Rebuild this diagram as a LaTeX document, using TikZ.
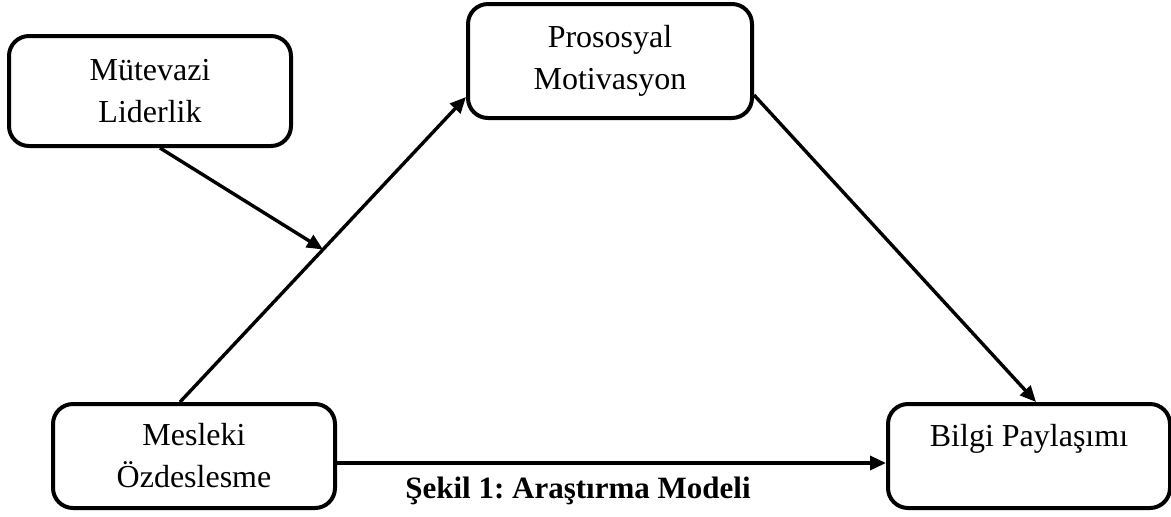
\documentclass[tikz,border=0pt]{standalone}
\usepackage{fontspec}
\setmainfont{Liberation Serif}
\usepackage{tikz}
\usetikzlibrary{arrows.meta}
\frenchspacing

\tikzset{
    modelbox/.style={draw, line width=2pt, rounded corners=10pt, align=center,
        minimum width=141pt, minimum height=54pt, inner sep=0pt,
        font=\fontsize{16}{21}\selectfont},
    arr/.style={line width=1.7pt, -{Triangle[length=8pt,width=7pt]}}
}

\begin{document}
\begin{tikzpicture}[x=0.5pt,y=-0.5pt]
    \useasboundingbox (0,0) rectangle (1171,516);

    % Boxes
    \node[modelbox, minimum height=55pt] (mut) at (150,91) {M\"utevazi\\Liderlik};
    \node[modelbox, minimum width=142pt, minimum height=57pt] (pro) at (610,61) {Prososyal\\Motivasyon};
    \node[modelbox, minimum height=52pt] (mes) at (194,456) {Mesleki\\\"Ozdeslesme};
    \node[modelbox, minimum height=52pt] (bil) at (1029,456) {Bilgi Payla\c{s}{\i}m{\i}\\~};

    % Paths
    \draw[arr] ([xshift=-7pt]mes.north) -- coordinate[pos=0.5] (mid) ([yshift=-18pt]pro.west);
    \draw[arr] ([xshift=5pt]mut.south) -- (mid);
    \draw[arr] ([yshift=-17pt]pro.east) -- ([xshift=3.5pt]bil.north);
    \draw[arr] ([yshift=-3.5pt]mes.east) -- ([yshift=-3.5pt]bil.west);

    % Caption
    \node[font=\fontsize{15.5}{20}\selectfont\bfseries] (cap) at (578,491) {\c{S}ekil 1: Ara\c{s}t{\i}rma Modeli};
\end{tikzpicture}
\end{document}
